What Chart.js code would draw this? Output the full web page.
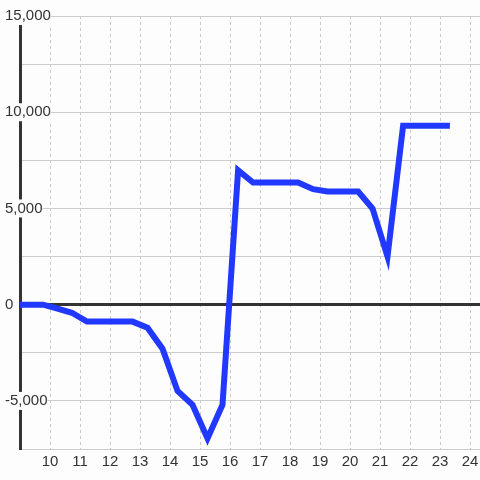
<!DOCTYPE html>
<html>
<head>
<meta charset="utf-8">
<script src="https://cdn.jsdelivr.net/npm/chart.js@4/dist/chart.umd.min.js"></script>
<style>
  html, body { margin: 0; padding: 0; background: #fdfdfd; }
  #wrap { width: 480px; height: 480px; }
</style>
</head>
<body>
<div id="wrap"><canvas id="chart"></canvas></div>
<script>
// values
const xValues = [8.75, 9.25, 9.77, 10.25, 10.73, 11.23, 11.75, 12.25, 12.75, 13.25,
  13.75, 14.25, 14.75, 15.25, 15.75, 16.27, 16.77, 17.25, 17.75, 18.27,
  18.77, 19.25, 19.75, 20.27, 20.75, 21.25, 21.77, 22.25, 22.75, 23.33];
const yValues = [0, 0, 0, -200, -420, -880, -880, -880, -880, -1200,
  -2290, -4480, -5200, -6950, -5200, 6980, 6350, 6350, 6350, 6350,
  6000, 5880, 5880, 5880, 5000, 2500, 9300, 9300, 9300, 9300];
const xTicks = [10, 11, 12, 13, 14, 15, 16, 17, 18, 19, 20, 21, 22, 23, 24];
const yLabelTicks = [15000, 10000, 5000, 0, -5000];

const points = xValues.map((x, i) => ({ x: x, y: yValues[i] }));

const textColor = '#333';
const font = { family: '"Liberation Sans", Arial, sans-serif', size: 15 };

new Chart(document.getElementById('chart'), {
  type: 'line',
  data: {
    datasets: [{
      data: points,
      borderColor: '#2138ff',
      borderWidth: 6,
      pointRadius: 0,
      tension: 0,
      fill: false
    }]
  },
  options: {
    responsive: true,
    maintainAspectRatio: false,
    animation: false,
    layout: { padding: { left: 5, top: 16, right: 0, bottom: 5 } },
    plugins: {
      legend: { display: false },
      tooltip: { enabled: false }
    },
    scales: {
      x: {
        type: 'linear',
        min: 9,
        max: 24.333,
        afterBuildTicks(scale) {
          scale.ticks = xTicks.map(v => ({ value: v }));
        },
        afterFit(scale) {
          scale.paddingLeft = 0;
          scale.paddingRight = 0;
        },
        grid: {
          color: '#c8c8c8',
          lineWidth: 1,
          drawTicks: false
        },
        border: { display: false, dash: [3, 3] },
        ticks: {
          color: textColor,
          font: font,
          padding: 4,
          maxRotation: 0,
          callback: v => String(v)
        }
      },
      y: {
        min: -7500,
        max: 15000,
        afterFit(scale) { scale.width = 15; },
        ticks: {
          stepSize: 2500,
          color: textColor,
          font: font,
          mirror: true,
          padding: -15,
          showLabelBackdrop: true,
          backdropColor: '#fdfdfd',
          backdropPadding: 0,
          callback: v => yLabelTicks.includes(v) ? v.toLocaleString('en-US') : ''
        },
        grid: {
          drawTicks: false,
          color: ctx => ctx.tick && ctx.tick.value === 0 ? '#333' : '#cccccc',
          lineWidth: ctx => ctx.tick && ctx.tick.value === 0 ? 3 : 1
        },
        border: { display: true, color: '#333', width: 3 }
      }
    }
  }
});
</script>
</body>
</html>
